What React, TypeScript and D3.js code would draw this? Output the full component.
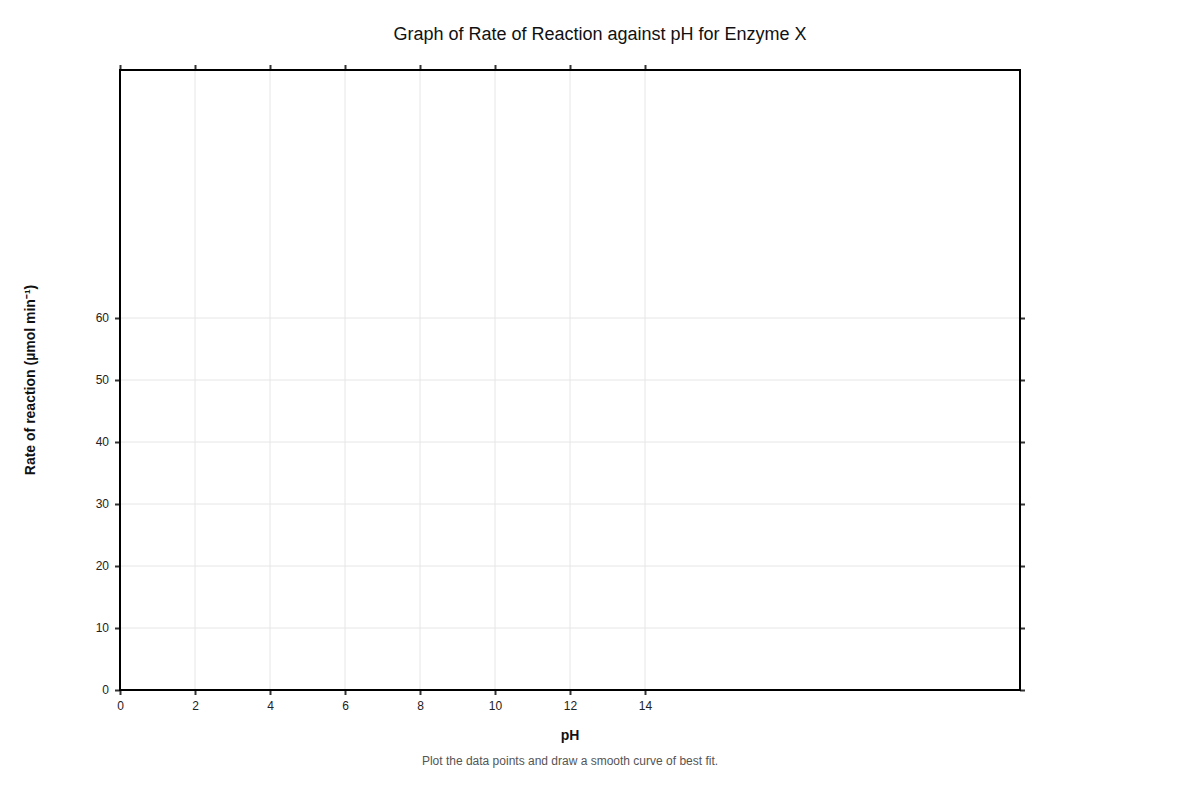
import React, { useEffect, useRef } from "react";
import * as d3 from "d3";

const xTicks = [0, 2, 4, 6, 8, 10, 12, 14];
const yTicks = [0, 10, 20, 30, 40, 50, 60];
const xDomain = [0, 24];
const yDomain = [0, 100];
const title = "Graph of Rate of Reaction against pH for Enzyme X";
const xLabel = "pH";
const yLabel = "Rate of reaction (µmol min⁻¹)";
const note = "Plot the data points and draw a smooth curve of best fit.";

export default function App() {
  const ref = useRef<SVGSVGElement>(null);
  useEffect(() => {
    const svg = d3.select(ref.current);
    svg.selectAll("*").remove();
    const W = 1200, H = 800;
    const m = { l: 120, r: 180, t: 70, b: 110 };
    const x = d3.scaleLinear().domain(xDomain).range([m.l, W - m.r]);
    const y = d3.scaleLinear().domain(yDomain).range([H - m.b, m.t]);
    const font = "Liberation Sans, Arial, sans-serif";

    svg.append("rect").attr("width", W).attr("height", H).attr("fill", "#fff");

    const grid = svg.append("g");
    grid.selectAll("line.gx").data(xTicks).join("line")
      .attr("x1", d => x(d)).attr("x2", d => x(d))
      .attr("y1", y(yDomain[0])).attr("y2", y(yDomain[1]))
      .attr("stroke", "#e6e6e6").attr("stroke-width", 1);
    grid.selectAll("line.gy").data(yTicks).join("line")
      .attr("y1", d => y(d)).attr("y2", d => y(d))
      .attr("x1", x(xDomain[0])).attr("x2", x(xDomain[1]))
      .attr("stroke", "#e6e6e6").attr("stroke-width", 1);

    const styleAxis = (g: any) => {
      g.select(".domain").remove();
      g.selectAll(".tick line").attr("stroke", "#333").attr("stroke-width", 2);
      g.selectAll(".tick text").attr("fill", "#222").attr("font-size", 12).attr("font-family", font);
    };
    svg.append("g").attr("transform", `translate(0,${y(0)})`)
      .call(d3.axisBottom(x).tickValues(xTicks).tickSize(5).tickPadding(6).tickFormat(d3.format("d")))
      .call(styleAxis);
    svg.append("g").attr("transform", `translate(0,${y(yDomain[1])})`)
      .call(d3.axisTop(x).tickValues(xTicks).tickSize(5).tickFormat(() => ""))
      .call(styleAxis);
    svg.append("g").attr("transform", `translate(${x(0)},0)`)
      .call(d3.axisLeft(y).tickValues(yTicks).tickSize(5).tickPadding(6).tickFormat(d3.format("d")))
      .call(styleAxis);
    svg.append("g").attr("transform", `translate(${x(xDomain[1])},0)`)
      .call(d3.axisRight(y).tickValues(yTicks).tickSize(5).tickFormat(() => ""))
      .call(styleAxis);

    svg.append("rect")
      .attr("x", x(xDomain[0])).attr("y", y(yDomain[1]))
      .attr("width", x(xDomain[1]) - x(xDomain[0]))
      .attr("height", y(yDomain[0]) - y(yDomain[1]))
      .attr("fill", "none").attr("stroke", "#000").attr("stroke-width", 2);

    const cx = (x(xDomain[0]) + x(xDomain[1])) / 2;
    const cy = (y(yDomain[0]) + y(yDomain[1])) / 2;
    svg.append("text").attr("x", 600).attr("y", 40).attr("text-anchor", "middle")
      .attr("font-family", font).attr("font-size", 18).attr("fill", "#111").text(title);
    svg.append("text").attr("x", cx).attr("y", 740).attr("text-anchor", "middle")
      .attr("font-family", font).attr("font-size", 14).attr("font-weight", "bold").attr("fill", "#111").text(xLabel);
    svg.append("text").attr("transform", `translate(35,${cy}) rotate(-90)`).attr("text-anchor", "middle")
      .attr("font-family", font).attr("font-size", 14).attr("font-weight", "bold").attr("fill", "#111").text(yLabel);
    svg.append("text").attr("x", cx).attr("y", 765).attr("text-anchor", "middle")
      .attr("font-family", font).attr("font-size", 12).attr("fill", "#555").text(note);
  }, []);
  return (
    <svg ref={ref} width={1200} height={800}
      style={{ position: "absolute", left: 0, top: 0, display: "block" }} />
  );
}
